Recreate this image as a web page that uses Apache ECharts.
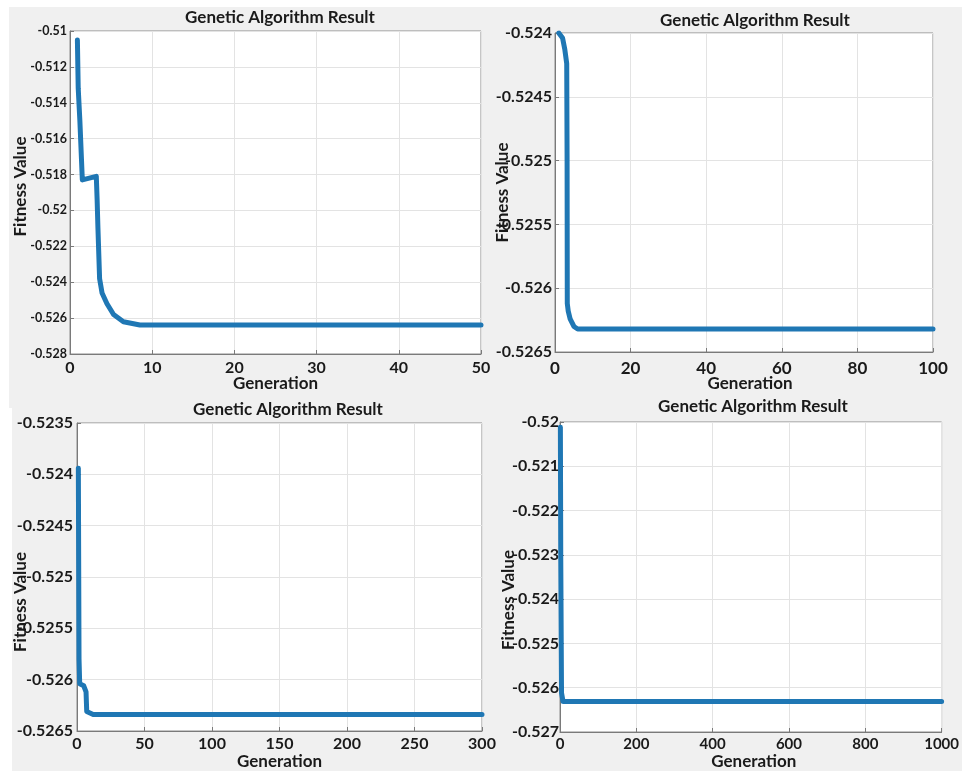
<!DOCTYPE html>
<html>
<head>
<meta charset="utf-8">
<script src="https://cdn.jsdelivr.net/npm/echarts@6/dist/echarts.min.js"></script>
<style>
html,body{margin:0;padding:0;background:#fff;}
#c{width:962px;height:771px;}
</style>
</head>
<body>
<div id="c"></div>
<script>
// Panel 1 (generations 0-50)
const gen1 = [0.9, 1.0, 1.2, 1.5, 3.2, 3.3, 3.4, 3.6, 3.9, 4.5, 5.3, 6.5, 8.5, 50];
const fit1 = [-0.5105, -0.5132, -0.5150, -0.5183, -0.5181, -0.5194, -0.5210, -0.5238, -0.5246, -0.5252, -0.5258, -0.5262, -0.52638, -0.52638];
// Panel 2 (generations 0-100)
const gen2 = [1, 2, 2.6, 3.1, 3.2, 3.25, 3.5, 4, 5, 6, 100];
const fit2 = [-0.5240, -0.52404, -0.52413, -0.52424, -0.5250, -0.52612, -0.52618, -0.52624, -0.52630, -0.52632, -0.52632];
// Panel 3 (generations 0-300)
const gen3 = [1, 1.5, 2, 5, 6.7, 7.2, 12, 300];
const fit3 = [-0.52394, -0.52580, -0.52604, -0.52606, -0.52612, -0.52631, -0.52634, -0.52634];
// Panel 4 (generations 0-1000)
const gen4 = [1, 2, 4, 8, 1000];
const fit4 = [-0.52012, -0.52310, -0.52612, -0.52631, -0.52631];

const xRanges = [[0, 50, 10], [0, 100, 20], [0, 300, 50], [0, 1000, 200]];
const yRanges = [[-0.528, -0.51, 0.002], [-0.5265, -0.524, 0.0005], [-0.5265, -0.5235, 0.0005], [-0.527, -0.52, 0.001]];
const titleText = 'Genetic Algorithm Result';
const xName = 'Generation';
const yName = 'Fitness Value';

const FONT = 'Lato';
const lineColor = '#1f77b4';
const grids = [
  {left: 70, top: 31, width: 411, height: 323},
  {left: 555, top: 33, width: 378, height: 319},
  {left: 77, top: 423, width: 405, height: 317},
  {left: 560, top: 422, width: 384, height: 312}
];
const titlePos = [[280, 9], [755, 12], [288, 401], [753, 398]];
const yLabelSize = [12.5, 16, 16, 16];
const xLabelSize = [16, 17, 16, 15];
const yLabelMargin = [3, 3, 4, 1];
const xLabelMargin = [6, 8, 5, 5];
const xNameGap = [21, 23, 22, 21];
const yNameGap = [41, 44, 48, 43];
const yNamePad = [[0, 0, 0, 12], [0, 0, 0, 0], [0, 50, 0, 0], [0, 46, 0, 0]];
const xNamePad = [[0, 0, 0, 0], [0, 0, 0, 12], [0, 0, 0, 0], [0, 0, 0, 6]];
const series = [[gen1, fit1], [gen2, fit2], [gen3, fit3], [gen4, fit4]];

const option = {
  animation: false,
  backgroundColor: '#ffffff',
  graphic: [
    {type: 'rect', silent: true, z: -10, shape: {x: 9, y: 7, width: 953, height: 401}, style: {fill: '#f0f0f0'}},
    {type: 'rect', silent: true, z: -10, shape: {x: 12, y: 407, width: 950, height: 364}, style: {fill: '#f0f0f0'}}
  ],
  title: titlePos.map(p => ({
    text: titleText, left: p[0], top: p[1], textAlign: 'center', padding: 0,
    textStyle: {fontFamily: FONT, fontWeight: 'bold', fontSize: 17, color: '#1a1a1a'}
  })),
  grid: grids.map(g => Object.assign({show: true, backgroundColor: '#ffffff', borderColor: '#8c8c8c', borderWidth: 1}, g)),
  xAxis: xRanges.map((r, i) => ({
    type: 'value', gridIndex: i, min: r[0], max: r[1], interval: r[2],
    name: xName, nameLocation: 'middle', nameGap: xNameGap[i], nameMoveOverlap: false,
    nameTextStyle: {fontFamily: FONT, fontWeight: 'bold', fontSize: 17, color: '#1a1a1a', padding: xNamePad[i]},
    axisLine: {show: true, onZero: false, lineStyle: {color: '#7a7a7a', width: 1}},
    axisTick: {show: true, inside: true, length: 4, lineStyle: {color: '#7a7a7a'}},
    axisLabel: {fontFamily: FONT, fontWeight: 'bold', fontSize: xLabelSize[i], color: '#1a1a1a', margin: xLabelMargin[i],
      formatter: v => String(v)},
    splitLine: {show: true, lineStyle: {color: '#e3e3e3', width: 1}}
  })),
  yAxis: yRanges.map((r, i) => ({
    type: 'value', gridIndex: i, min: r[0], max: r[1], interval: r[2],
    name: yName, nameLocation: 'middle', nameGap: yNameGap[i], nameMoveOverlap: false,
    nameTextStyle: {fontFamily: FONT, fontWeight: 'bold', fontSize: 17, color: '#1a1a1a', padding: yNamePad[i]},
    axisLine: {show: true, onZero: false, lineStyle: {color: '#7a7a7a', width: 1}},
    axisTick: {show: true, inside: true, length: 4, lineStyle: {color: '#7a7a7a'}},
    axisLabel: {fontFamily: FONT, fontWeight: 'bold', fontSize: yLabelSize[i], color: '#1a1a1a', margin: yLabelMargin[i]},
    splitLine: {show: true, lineStyle: {color: '#e3e3e3', width: 1}}
  })),
  series: series.map((s, i) => ({
    type: 'line', xAxisIndex: i, yAxisIndex: i, showSymbol: false, symbol: 'none',
    data: s[0].map((g, k) => [g, s[1][k]]),
    lineStyle: {color: lineColor, width: 5, join: 'round', cap: 'round'}
  }))
};

const chart = echarts.init(document.getElementById('c'), null, {renderer: 'canvas'});
chart.setOption(option);
</script>
</body>
</html>
